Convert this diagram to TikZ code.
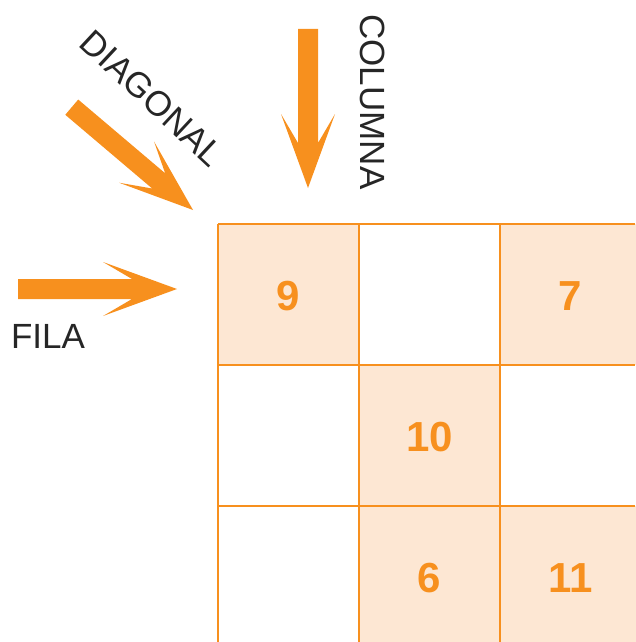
\documentclass[tikz,border=0pt]{standalone}
\usepackage{fontspec}
\setmainfont{Liberation Sans}
\definecolor{orng}{HTML}{F7901E}
\definecolor{cellfill}{HTML}{FDE7D3}
\begin{document}
\begin{tikzpicture}[x=1pt,y=-1pt,
  gridline/.style={draw=orng,line width=1.6pt},
  shaded/.style={fill=cellfill},
  num/.style={text=orng,font=\fontsize{42}{48}\selectfont\bfseries},
  lbl/.style={text=black!85,font=\fontsize{35}{42}\selectfont,inner sep=0pt},
  bigarrow/.pic={
    \fill[orng] (-159,-10) -- (-45,-10) -- (-74,-27) -- (0,0)
      -- (-74,27) -- (-45,10) -- (-159,10) -- cycle;
  }]
\useasboundingbox (0,0) rectangle (635,642);
% shaded cells
\foreach \c/\r in {0/0,2/0,1/1,1/2,2/2}
  \fill[shaded] (218+141*\c,224+141*\r) rectangle +(141,141);
% grid lines
\foreach \x in {218,359,500} \draw[gridline] (\x,224) -- (\x,642);
\foreach \y in {224,365,506} \draw[gridline] (218,\y) -- (635,\y);
% numbers
\node[num] (n9)  at (288.5,296) {9};
\node[num] (n7)  at (570.5,296) {7};
\node[num] (n10) at (429.5,437) {10};
\node[num] (n6)  at (429.5,578) {6};
\node[num] (n11) at (570.5,578) {11};
% arrows
\coordinate (filatip) at (177,289);
\coordinate (coltip) at (308,188);
\coordinate (diagtip) at (193,210);
\pic at (filatip) {bigarrow};
\pic[rotate=-90] at (coltip) {bigarrow};
\pic[rotate=-40.3] at (diagtip) {bigarrow};
% labels
\node[lbl] (fila) at (48,336) {FILA};
\node[lbl,rotate=-90] (columna) at (373,102) {COLUMNA};
\node[lbl,rotate=-43] (diagonal) at (152,98) {DIAGONAL};
\end{tikzpicture}
\end{document}
